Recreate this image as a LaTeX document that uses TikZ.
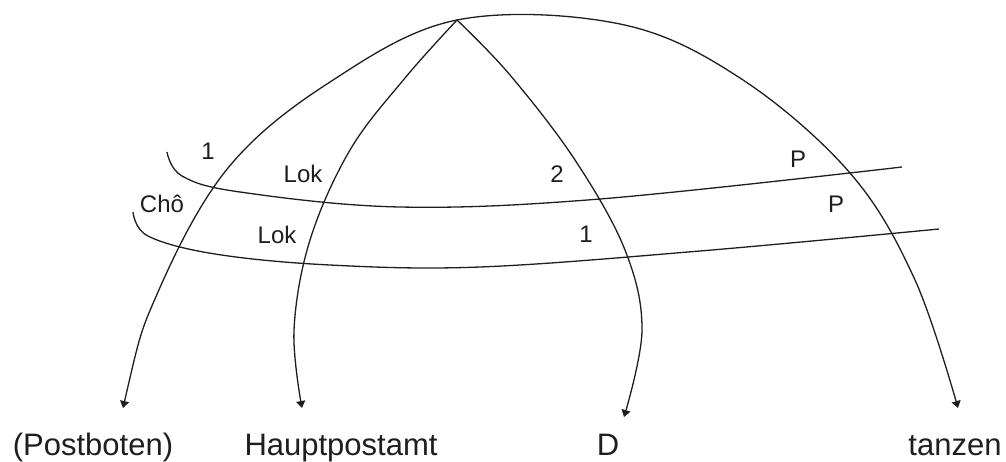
\documentclass[tikz,border=0pt]{standalone}
\usepackage{fontspec}
\setmainfont{Liberation Sans}
\usetikzlibrary{arrows.meta}
\definecolor{ink}{HTML}{1E1E1E}
\tikzset{
  curve/.style={draw=ink, line width=1.3pt},
  tipped/.style={-{Triangle[length=7pt,width=9pt]}},
  bothtips/.style={{Triangle[length=7pt,width=9pt]}-{Triangle[length=7pt,width=9pt]}},
  lbl/.style={font=\fontsize{24}{28}\selectfont, text=ink, anchor=base, inner sep=0pt},
  biglbl/.style={font=\fontsize{31}{36}\selectfont, text=ink, anchor=base, inner sep=0pt}
}
\begin{document}
\begin{tikzpicture}[x=1pt,y=-1pt]
\useasboundingbox (0,0) rectangle (1006,461);
% named points
\coordinate (apex) at (457,20);
\coordinate (endA) at (123,408);
\coordinate (endB) at (302,408);
\coordinate (endC) at (624,417);
\coordinate (endD) at (958,408);
\coordinate (upS) at (167,152);
\coordinate (upE) at (902,167);
\coordinate (loS) at (133,212);
\coordinate (loE) at (939,229);
% big arc
\draw[curve,bothtips] plot[smooth,tension=0.6] coordinates {
  (endA) (158,292) (228,168) (330,82) (apex) (620,24) (740,78) (850,173) (915,280) (endD)};
% Hauptpostamt curve
\draw[curve,tipped] plot[smooth,tension=0.6] coordinates {
  (apex) (405,78) (350,150) (310,240) (294,330) (endB)};
% D curve
\draw[curve,tipped] plot[smooth,tension=0.6] coordinates {
  (apex) (510,75) (575,160) (625,250) (642,330) (endC)};
% upper cross line
\draw[curve] plot[smooth,tension=0.6] coordinates {
  (upS) (182,176) (240,192) (400,207) (600,199) (upE)};
% lower cross line
\draw[curve] plot[smooth,tension=0.6] coordinates {
  (loS) (148,236) (215,254) (330,265) (480,267) (700,251) (loE)};
% small labels
\node[lbl] (l1) at (208,159) {1};
\node[lbl] (lok1) at (303,182) {Lok};
\node[lbl] (cho) at (162,212) {Chô};
\node[lbl] (lok2) at (277,243) {Lok};
\node[lbl] (l2) at (557,182) {2};
\node[lbl] (l3) at (586,242) {1};
\node[lbl] (p1) at (798,167) {P};
\node[lbl] (p2) at (836,212) {P};
% bottom labels
\node[biglbl] (post) at (93,455) {(Postboten)};
\node[biglbl] (haupt) at (341,455) {Hauptpostamt};
\node[biglbl] (dd) at (608,455) {D};
\node[biglbl] (tanz) at (955,455) {tanzen};
\end{tikzpicture}
\end{document}
